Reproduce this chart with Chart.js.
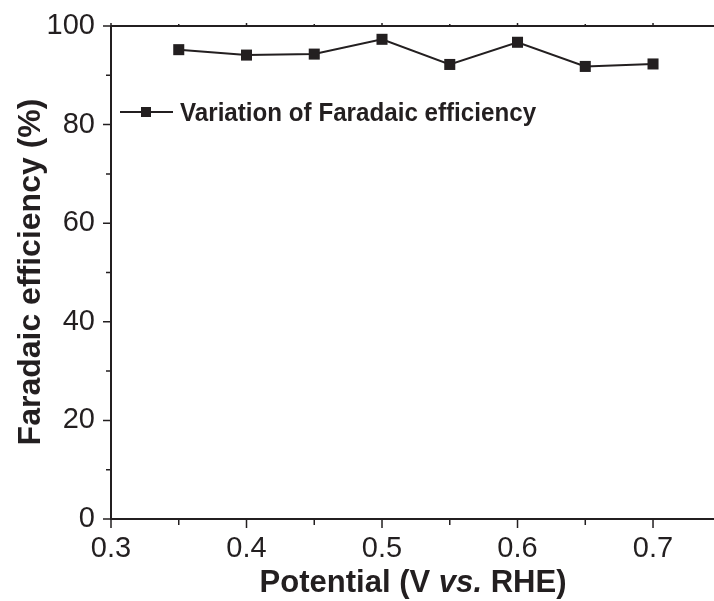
<!DOCTYPE html>
<html>
<head>
<meta charset="utf-8">
<script src="https://cdn.jsdelivr.net/npm/chart.js@4/dist/chart.umd.min.js"></script>
<style>
  html, body { margin: 0; padding: 0; background: #fff; }
  #wrap { width: 714px; height: 601px; }
</style>
</head>
<body>
<div id="wrap"><canvas id="chart" width="714" height="601"></canvas></div>
<script>
// values
const potentials = [0.35, 0.40, 0.45, 0.50, 0.55, 0.60, 0.65, 0.70];
const efficiency = [95.2, 94.1, 94.3, 97.3, 92.2, 96.7, 91.8, 92.3];
const xTicks = [0.3, 0.4, 0.5, 0.6, 0.7];
const xMinorTicks = [0.35, 0.45, 0.55, 0.65];
const yTicks = [0, 20, 40, 60, 80, 100];
const yMinorTicks = [10, 30, 50, 70, 90];
const seriesLabel = "Variation of Faradaic efficiency";

const ink = "#231f20";
const fontFam = "'Liberation Sans', Arial, Helvetica, sans-serif";

// frame, ticks, legend and axis titles
const decor = {
  id: "decor",
  afterDraw(chart){
    const ctx = chart.ctx;
    const a = chart.chartArea;
    const xs = chart.scales.x, ys = chart.scales.y;
    ctx.save();
    ctx.strokeStyle = ink;
    ctx.lineWidth = 2;
    ctx.beginPath();
    ctx.moveTo(a.left, a.top); ctx.lineTo(a.right, a.top);
    ctx.moveTo(a.left, a.top); ctx.lineTo(a.left, a.bottom);
    ctx.moveTo(a.left - 1, a.bottom); ctx.lineTo(a.right, a.bottom);
    ctx.stroke();

    ctx.lineWidth = 1.5;
    ctx.beginPath();
    xTicks.forEach(v => {
      const px = xs.getPixelForValue(v);
      ctx.moveTo(px, a.bottom); ctx.lineTo(px, a.bottom + 9);
      ctx.moveTo(px, a.top); ctx.lineTo(px, a.top - 3);
    });
    xMinorTicks.forEach(v => {
      const px = xs.getPixelForValue(v);
      ctx.moveTo(px, a.bottom); ctx.lineTo(px, a.bottom + 6);
      ctx.moveTo(px, a.top); ctx.lineTo(px, a.top - 2);
    });
    yTicks.forEach(v => {
      const py = ys.getPixelForValue(v);
      ctx.moveTo(a.left, py); ctx.lineTo(a.left - 8, py);
    });
    yMinorTicks.forEach(v => {
      const py = ys.getPixelForValue(v);
      ctx.moveTo(a.left, py); ctx.lineTo(a.left - 5, py);
    });
    ctx.stroke();

    // legend
    const ly = 112;
    ctx.lineWidth = 2;
    ctx.beginPath();
    ctx.moveTo(120, ly); ctx.lineTo(173, ly);
    ctx.stroke();
    ctx.fillStyle = ink;
    ctx.fillRect(146 - 5, ly - 5, 10, 10);
    ctx.save();
    ctx.translate(180, 0);
    ctx.scale(0.93, 1);
    ctx.font = "bold 26px " + fontFam;
    ctx.textBaseline = "alphabetic";
    ctx.textAlign = "left";
    ctx.fillText(seriesLabel, 0, 121);
    ctx.restore();

    // x title with italic "vs."
    ctx.textBaseline = "alphabetic";
    ctx.textAlign = "left";
    const parts = [
      ["bold 32px ", "Potential (V "],
      ["italic bold 32px ", "vs."],
      ["bold 32px ", " RHE)"]
    ];
    let total = 0;
    parts.forEach(p => { ctx.font = p[0] + fontFam; total += ctx.measureText(p[1]).width; });
    const sx = 0.97;
    ctx.save();
    ctx.translate(413 - total * sx / 2, 592);
    ctx.scale(sx, 1);
    let tx = 0;
    parts.forEach(p => {
      ctx.font = p[0] + fontFam;
      ctx.fillText(p[1], tx, 0);
      tx += ctx.measureText(p[1]).width;
    });
    ctx.restore();

    // y title
    ctx.translate(40, 272);
    ctx.rotate(-Math.PI / 2);
    ctx.textAlign = "center";
    ctx.font = "bold 32px " + fontFam;
    ctx.fillText("Faradaic efficiency (%)", 0, 0);
    ctx.restore();
  }
};

new Chart(document.getElementById("chart"), {
  type: "scatter",
  data: {
    datasets: [{
      label: seriesLabel,
      data: potentials.map((p, i) => ({ x: p, y: efficiency[i] })),
      showLine: true,
      borderColor: ink,
      borderWidth: 2,
      backgroundColor: ink,
      pointStyle: "rect",
      pointRadius: 7.8,
      pointBorderWidth: 0,
      tension: 0
    }]
  },
  options: {
    responsive: false,
    animation: false,
    layout: { autoPadding: false, padding: { top: 26, right: 0, left: 0, bottom: 0 } },
    plugins: { legend: { display: false }, tooltip: { enabled: false } },
    scales: {
      x: {
        type: "linear",
        min: 0.3,
        max: 0.745,
        afterBuildTicks: s => { s.ticks = xTicks.map(v => ({ value: v })); },
        afterFit: s => { s.height = 82; },
        grid: { display: false },
        border: { display: false },
        ticks: {
          color: ink,
          padding: 5,
          font: { family: fontFam, size: 29 },
          callback: v => Number(v).toFixed(1)
        }
      },
      y: {
        min: 0,
        max: 100,
        afterBuildTicks: s => { s.ticks = yTicks.map(v => ({ value: v })); },
        afterFit: s => { s.width = 111; },
        grid: { display: false },
        border: { display: false },
        ticks: {
          color: ink,
          padding: 8,
          font: { family: fontFam, size: 29 }
        }
      }
    }
  },
  plugins: [decor]
});
</script>
</body>
</html>
